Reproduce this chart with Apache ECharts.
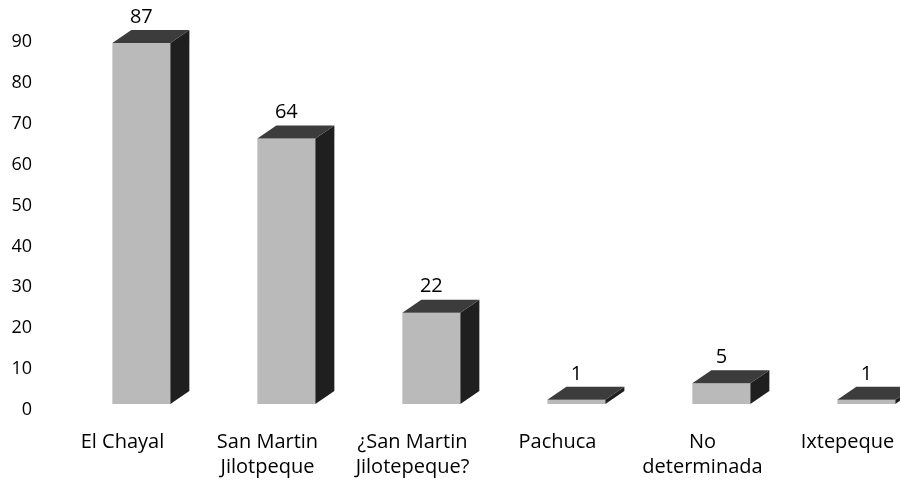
<!DOCTYPE html>
<html>
<head>
<meta charset="utf-8">
<script src="https://cdn.jsdelivr.net/npm/echarts@6/dist/echarts.min.js"></script>
<style>
html,body{margin:0;padding:0;background:#fff;}
#main{width:900px;height:494px;}
</style>
</head>
<body>
<div id="main"></div>
<script>
var categories = ['El Chayal', 'San Martin\nJilotpeque', '¿San Martin\nJilotepeque?', 'Pachuca', 'No\ndeterminada', 'Ixtepeque'];
var values = [87, 64, 22, 1, 5, 1];
var yTicks = [0, 10, 20, 30, 40, 50, 60, 70, 80, 90];

var font = '"Open Sans", sans-serif';
var barData = [];
for (var i = 0; i < values.length; i++) {
  barData.push([i, values[i]]);
}

// front face + side + top, drawn from axis coords
function drawBar(params, api) {
  var idx = api.value(0);
  var v = api.value(1);
  var base = api.coord([idx, 0]);
  var top = api.coord([idx, v]);
  var band = api.size([1, 0])[0];
  var x0 = base[0] - band * 0.07;
  var w = band * 0.4;
  var x1 = x0 + w;
  var dx = 19, dy = 13;
  return {
    type: 'group',
    children: [
      {
        type: 'rect',
        shape: {x: x0, y: top[1], width: w, height: base[1] - top[1]},
        style: {fill: '#bababa'}
      },
      {
        type: 'polygon',
        shape: {points: [[x1, base[1]], [x1, top[1]], [x1 + dx, top[1] - dy], [x1 + dx, base[1] - dy]]},
        style: {fill: '#1f1f1f'}
      },
      {
        type: 'polygon',
        shape: {points: [[x0, top[1]], [x1, top[1]], [x1 + dx, top[1] - dy], [x0 + dx, top[1] - dy]]},
        style: {fill: '#3c3c3c'}
      },
      {
        type: 'text',
        x: x0 + w / 2,
        y: top[1] - dy - 3,
        style: {
          text: String(v),
          textAlign: 'center',
          textVerticalAlign: 'bottom',
          fontSize: 20,
          fontFamily: font,
          fill: '#000'
        }
      }
    ]
  };
}

var myChart = echarts.init(document.getElementById('main'));
var option = {
  animation: false,
  backgroundColor: '#fff',
  grid: {left: 50, right: -20, top: 42, bottom: 84, outerBoundsMode: 'none'},
  xAxis: {
    type: 'category',
    data: categories,
    axisLine: {show: false},
    axisTick: {show: false},
    axisLabel: {
      interval: 0,
      margin: 20,
      fontSize: 20,
      lineHeight: 25,
      fontFamily: font,
      color: '#000'
    }
  },
  yAxis: [{
    type: 'value',
    min: yTicks[0],
    max: yTicks[yTicks.length - 1],
    interval: 10,
    splitLine: {show: false},
    axisLine: {show: false},
    axisTick: {show: false},
    axisLabel: {
      margin: 18,
      fontSize: 18,
      fontFamily: font,
      color: '#000'
    }
  }, {
    type: 'value',
    show: false,
    min: -1.45,
    max: 87.24,
    splitLine: {show: false}
  }],
  series: [{
    type: 'custom',
    yAxisIndex: 1,
    renderItem: drawBar,
    data: barData
  }]
};
myChart.setOption(option);
</script>
</body>
</html>
